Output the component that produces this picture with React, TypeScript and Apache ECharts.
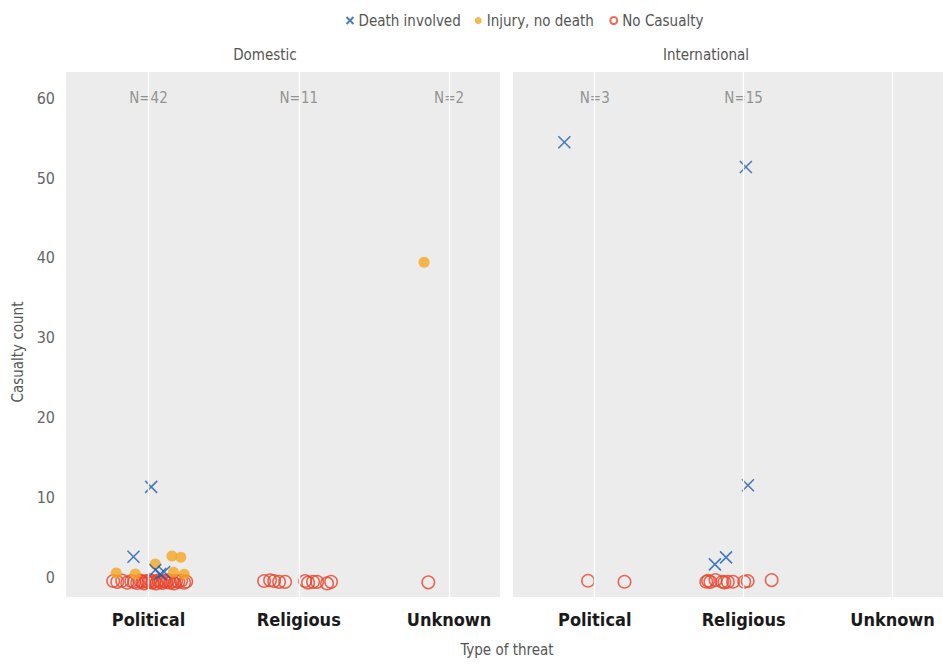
import React, { useEffect, useRef } from "react";
import * as echarts from "echarts";

const FONT = "'Liberation Sans Narrow', 'DejaVu Sans Condensed', 'Liberation Sans', sans-serif";

const categories = ["Political", "Religious", "Unknown"];
const panels = ["Domestic", "International"];
const yTicks = [0, 10, 20, 30, 40, 50, 60];

// [jittered category position, casualty count]
const domDeath: number[][] = [
  [1.018, 11.3], [0.9, 2.54], [1.045, 0.88], [1.078, 0.38], [1.104, 0.63],
];
const domInjury: number[][] = [
  [0.785, 0.5], [0.912, 0.38], [1.045, 1.63], [1.156, 2.63], [1.215, 2.47], [1.166, 0.59], [1.237, 0.34],
  [2.834, 39.46],
];
const domNone: number[][] = [
  [0.765, -0.5], [0.792, -0.6], [0.825, -0.45], [0.858, -0.7], [0.885, -0.5], [0.905, -0.6],
  [0.925, -0.75], [0.945, -0.45], [0.958, -0.6], [0.971, -0.8], [0.985, -0.5], [0.998, -0.65],
  [1.011, -0.4], [1.025, -0.7], [1.038, -0.55], [1.051, -0.8], [1.065, -0.45], [1.078, -0.6],
  [1.091, -0.75], [1.104, -0.5], [1.118, -0.65], [1.131, -0.4], [1.144, -0.7], [1.158, -0.55],
  [1.171, -0.8], [1.184, -0.5], [1.198, -0.6], [1.217, -0.45], [1.237, -0.7], [1.251, -0.55],
  [1.769, -0.5], [1.809, -0.4], [1.836, -0.5], [1.869, -0.6], [1.909, -0.6], [2.042, -0.5],
  [2.062, -0.7], [2.095, -0.6], [2.122, -0.6], [2.188, -0.8], [2.215, -0.6],
  [2.862, -0.66],
];
const intDeath: number[][] = [
  [0.796, 54.5], [2.015, 51.4], [2.029, 11.5], [1.807, 1.59], [1.882, 2.47],
];
const intInjury: number[][] = [];
const intNone: number[][] = [
  [0.955, -0.46], [1.2, -0.59],
  [1.749, -0.59], [1.761, -0.46], [1.776, -0.6], [1.811, -0.38], [1.856, -0.59], [1.871, -0.66],
  [1.894, -0.59], [1.929, -0.59], [2.004, -0.59], [2.027, -0.5], [2.188, -0.38],
];
const domN = ["N=42", "N=11", "N=2"];
const intN = ["N=3", "N=15", ""];
const nLabelY = 60;

const BLUE = "#1F5DAD";
const ORANGE = "#F5A623";
const RED = "#E8432D";
const CROSS = "path://M0,0L10,10M10,0L0,10";

export default function App() {
  const ref = useRef<HTMLDivElement>(null);
  useEffect(() => {
    if (!ref.current) return;
    const chart = echarts.init(ref.current, undefined, { renderer: "svg" });
    const xMin = 0.451;
    const xMax = 3.339;
    const mkX = (gi: number) => ({
      type: "value",
      gridIndex: gi,
      min: xMin,
      max: xMax,
      axisLine: { show: false },
      axisTick: { show: false },
      splitLine: { show: false },
      axisLabel: {
        customValues: [1, 2, 3],
        formatter: (v: number) => categories[Math.round(v) - 1] || "",
        fontFamily: FONT,
        fontSize: 18,
        fontWeight: "bold",
        color: "#1a1a1a",
        margin: 13,
      },
    });
    const mkY = (gi: number) => ({
      type: "value",
      gridIndex: gi,
      min: -2.5,
      max: 63.3,
      axisLine: { show: false },
      axisTick: { show: false },
      splitLine: { show: false },
      axisLabel: {
        show: gi === 0,
        customValues: yTicks,
        fontFamily: FONT,
        fontSize: 16,
        color: "#666",
        margin: 11,
      },
    });
    const deathStyle = { symbol: CROSS, symbolSize: 12, itemStyle: { color: "none", borderColor: BLUE, borderWidth: 1.6 } };
    const injuryStyle = { symbol: "circle", symbolSize: 11, itemStyle: { color: ORANGE } };
    const noneStyle = { symbol: "circle", symbolSize: 12.5, itemStyle: { color: "none", borderColor: RED, borderWidth: 1.5 } };
    const nSeries = (gi: number, labels: string[]) => ({
      type: "scatter",
      xAxisIndex: gi,
      yAxisIndex: gi,
      symbolSize: 0,
      silent: true,
      z: 1,
      data: labels.map((n, i) => ({ name: n, value: [i + 1, nLabelY] })),
      label: {
        show: true,
        position: "inside",
        formatter: "{b}",
        fontFamily: FONT,
        fontSize: 15,
        color: "#7a7a7a",
      },
      markLine: {
        silent: true,
        symbol: "none",
        label: { show: false },
        lineStyle: { color: "#ffffff", width: 1.3, type: "solid" },
        data: categories.map((_, i) => ({ xAxis: i + 1 })),
      },
    });
    chart.setOption({
      animation: false,
      backgroundColor: "#ffffff",
      legend: {
        left: 339,
        top: 8,
        itemGap: 14,
        itemWidth: 7,
        itemHeight: 7,
        data: ["Death involved", "Injury, no death", "No Casualty"],
        textStyle: { fontFamily: FONT, fontSize: 15, color: "#555" },
      },
      grid: [
        { left: 66, top: 72, width: 434, height: 525, show: true, backgroundColor: "#EBECEB", borderWidth: 0 },
        { left: 513, top: 72, width: 434, height: 525, show: true, backgroundColor: "#EBECEB", borderWidth: 0 },
      ],
      xAxis: [mkX(0), mkX(1)],
      yAxis: [mkY(0), mkY(1)],
      graphic: [
        { type: "text", x: 265, y: 55, style: { text: panels[0], fontFamily: FONT, fontSize: 15, fill: "#555", align: "center", verticalAlign: "middle" } },
        { type: "text", x: 706, y: 55, style: { text: panels[1], fontFamily: FONT, fontSize: 15, fill: "#555", align: "center", verticalAlign: "middle" } },
        { type: "text", x: 507, y: 650, style: { text: "Type of threat", fontFamily: FONT, fontSize: 15, fill: "#555", align: "center", verticalAlign: "middle" } },
        { type: "text", x: 18, y: 352, rotation: Math.PI / 2, style: { text: "Casualty count", fontFamily: FONT, fontSize: 15, fill: "#555", align: "center", verticalAlign: "middle" } },
      ],
      series: [
        nSeries(0, domN),
        nSeries(1, intN),
        { name: "No Casualty", type: "scatter", xAxisIndex: 0, yAxisIndex: 0, z: 2, data: domNone, ...noneStyle },
        { name: "No Casualty", type: "scatter", xAxisIndex: 1, yAxisIndex: 1, z: 2, data: intNone, ...noneStyle },
        { name: "Injury, no death", type: "scatter", xAxisIndex: 0, yAxisIndex: 0, z: 3, data: domInjury, ...injuryStyle },
        { name: "Injury, no death", type: "scatter", xAxisIndex: 1, yAxisIndex: 1, z: 3, data: intInjury, ...injuryStyle },
        { name: "Death involved", type: "scatter", xAxisIndex: 0, yAxisIndex: 0, z: 4, data: domDeath, ...deathStyle },
        { name: "Death involved", type: "scatter", xAxisIndex: 1, yAxisIndex: 1, z: 4, data: intDeath, ...deathStyle },
      ],
    });
    return () => chart.dispose();
  }, []);
  return <div ref={ref} style={{ position: "absolute", left: 0, top: 0, width: 943, height: 664 }} />;
}
